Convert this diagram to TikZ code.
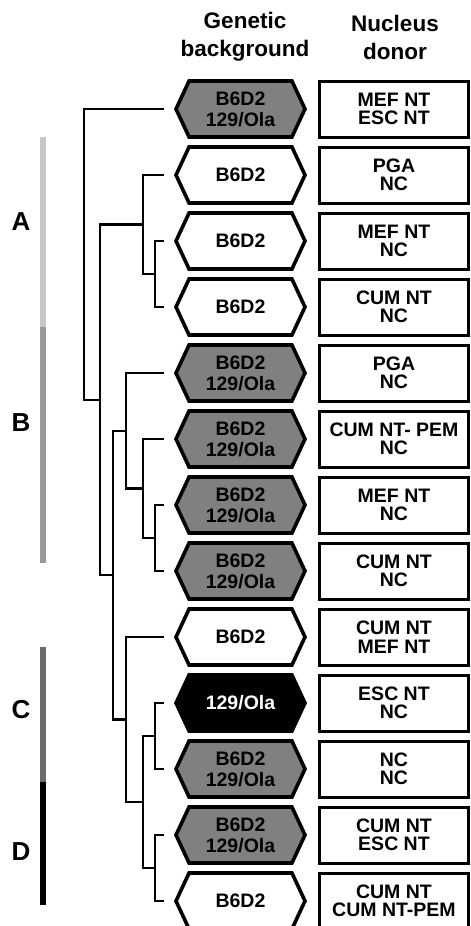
\documentclass[tikz,border=0pt]{standalone}
\usepackage{fontspec}
\setmainfont{Liberation Sans}
\usetikzlibrary{positioning,shapes.symbols}

\definecolor{hexgray}{gray}{0.5}
\definecolor{cladeA}{gray}{0.78}
\definecolor{cladeB}{gray}{0.6}
\definecolor{cladeC}{gray}{0.42}
\definecolor{cladeD}{gray}{0}

\begin{document}
\begin{tikzpicture}[x=1pt, y=-1pt,
    branch/.style={line width=2.5pt},
    hexbox/.style={draw, line width=3.6pt, shape=signal, signal to=east and west,
      signal pointer angle=130, minimum width=129pt, minimum height=56pt,
      inner sep=0pt, align=center, font=\fontsize{19.5}{21}\selectfont\bfseries},
    mixed/.style={hexbox, fill=hexgray},
    pure/.style={hexbox, fill=white},
    ola/.style={hexbox, fill=black, text=white},
    donorbox/.style={draw, line width=3pt, rectangle, minimum width=149pt,
      minimum height=56pt, inner sep=0pt, align=center,
      font=\fontsize{19.5}{18.5}\selectfont\bfseries},
    header/.style={align=center, font=\fontsize{22.5}{28}\selectfont\bfseries},
    clade/.style={line width=6pt},
    cladelabel/.style={font=\fontsize{26}{26}\selectfont\bfseries}]

  \useasboundingbox (0,0) rectangle (471,926);

  %% ===== COLUMN HEADERS =====
  \node[header] (hdgen) at (245,37) {Genetic\\background};
  \node[header] (hddon) at (395,37) {Nucleus\\donor};

  %% ===== ROWS: genetic background + nucleus donor =====
  \foreach \i/\bg/\gen/\don in {
      1/mixed/{B6D2\\129/Ola}/{MEF NT\\ESC NT},
      2/pure/{B6D2}/{PGA\\NC},
      3/pure/{B6D2}/{MEF NT\\NC},
      4/pure/{B6D2}/{CUM NT\\NC},
      5/mixed/{B6D2\\129/Ola}/{PGA\\NC},
      6/mixed/{B6D2\\129/Ola}/{CUM NT- PEM\\NC},
      7/mixed/{B6D2\\129/Ola}/{MEF NT\\NC},
      8/mixed/{B6D2\\129/Ola}/{CUM NT\\NC},
      9/pure/{B6D2}/{CUM NT\\MEF NT},
      10/ola/{129/Ola}/{ESC NT\\NC},
      11/mixed/{B6D2\\129/Ola}/{NC\\NC},
      12/mixed/{B6D2\\129/Ola}/{CUM NT\\ESC NT},
      13/pure/{B6D2}/{CUM NT\\CUM NT-PEM}} {
    \node[\bg] (h\i) at (240.5,{109+66*(\i-1)}) {\gen};
    \node[donorbox, right=11pt of h\i] (d\i) {\don};
    % leaf end, a small gap left of the hexagon tip
    \coordinate (l\i) at ([xshift=-10pt]h\i.west);
  }

  %% ===== DENDROGRAM =====
  % internal branch points
  \coordinate (n34) at (155,274);
  \coordinate (n234) at (143,224.5);
  \coordinate (n78) at (155,538);
  \coordinate (n678) at (143,488.5);
  \coordinate (n5to8) at (126,430.75);
  \coordinate (n1011) at (155,736);
  \coordinate (n1213) at (155,868);
  \coordinate (n10to13) at (143,802);
  \coordinate (n9to13) at (126,719.5);
  \coordinate (n5to13) at (113,575.1);
  \coordinate (n2to13) at (100,399.8);
  \coordinate (root) at (84,254.4);

  % cluster A
  \draw[branch] (l3) -| (n34) |- (l4);
  \draw[branch] (l2) -| (n234) |- (n34);

  % cluster B
  \draw[branch] (l7) -| (n78) |- (l8);
  \draw[branch] (l6) -| (n678) |- (n78);
  \draw[branch] (l5) -| (n5to8) |- (n678);

  % clusters C and D
  \draw[branch] (l10) -| (n1011) |- (l11);
  \draw[branch] (l12) -| (n1213) |- (l13);
  \draw[branch] (n1011) -| (n10to13) |- (n1213);
  \draw[branch] (l9) -| (n9to13) |- (n10to13);

  % joining branches
  \draw[branch] (n5to8) -| (n5to13) |- (n9to13);
  \draw[branch] (n234) -| (n2to13) |- (n5to13);
  \draw[branch] (l1) -| (root) |- (n2to13);

  %% ===== CLADE BARS AND LABELS =====
  \draw[clade, cladeA] (43,137) -- (43,327);
  \draw[clade, cladeB] (43,327) -- (43,563);
  \draw[clade, cladeC] (43,647) -- (43,782);
  \draw[clade, cladeD] (43,782) -- (43,905);

  \node[cladelabel] (labA) at (21,222) {A};
  \node[cladelabel] (labB) at (21,423) {B};
  \node[cladelabel] (labC) at (21,710) {C};
  \node[cladelabel] (labD) at (21,852) {D};

\end{tikzpicture}
\end{document}
